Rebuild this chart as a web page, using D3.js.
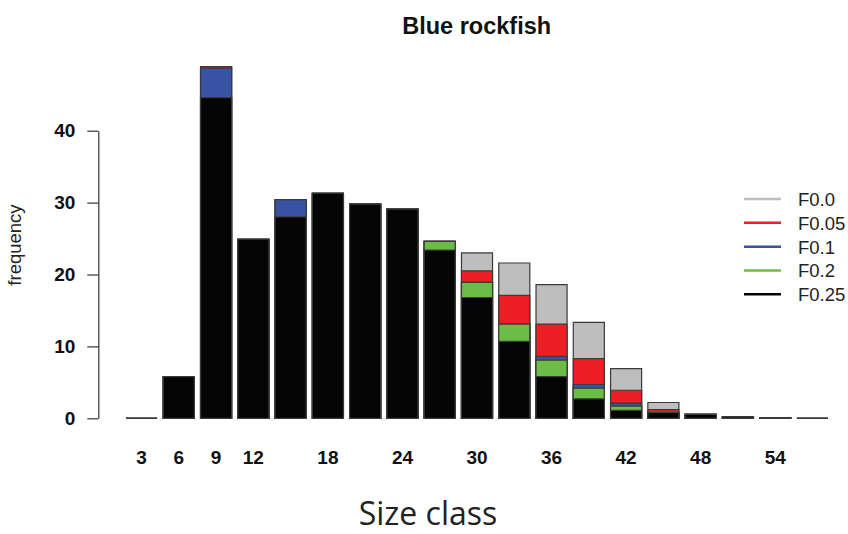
<!DOCTYPE html>
<html>
<head>
<meta charset="utf-8">
<script src="https://cdn.jsdelivr.net/npm/d3@7"></script>
<style>
  body { margin: 0; background: #fff; }
  svg { display: block; }
</style>
</head>
<body>
<svg id="chart" width="848" height="534"></svg>
<script>
// ---- data ----
const sizeClasses = [3, 6, 9, 12, 15, 18, 21, 24, 27, 30, 33, 36, 39, 42, 45, 48, 51, 54, 57];
const seriesNames = ["F0.0", "F0.05", "F0.1", "F0.2", "F0.25"];
const seriesColors = ["#bebebe", "#ed1f24", "#3953a4", "#6bbd45", "#050505"];
const F0_0  = [0, 5.8, 48.9, 24.9, 30.4, 31.3, 29.8, 29.1, 24.6, 23.0, 21.6, 18.6, 13.35, 6.9, 2.2, 0.55, 0.2, 0.05, 0];
const F0_05 = [0, 5.8, 48.9, 24.9, 30.4, 31.3, 29.8, 29.1, 24.6, 20.5, 17.1, 13.1, 8.3, 3.9, 1.2, 0.55, 0.2, 0.05, 0];
const F0_1  = [0, 5.8, 48.7, 24.9, 30.4, 31.3, 29.8, 29.1, 24.6, 18.9, 13.1, 8.6, 4.7, 2.1, 0.8, 0.55, 0.2, 0.05, 0];
const F0_2  = [0, 5.8, 44.6, 24.9, 28.0, 31.3, 29.8, 29.1, 24.6, 18.9, 13.1, 8.1, 4.2, 1.7, 0.8, 0.55, 0.2, 0.05, 0];
const F0_25 = [0, 5.8, 44.6, 24.9, 28.0, 31.3, 29.8, 29.1, 23.4, 16.8, 10.7, 5.8, 2.7, 1.1, 0.8, 0.55, 0.2, 0.05, 0];
const seriesValues = [F0_0, F0_05, F0_1, F0_2, F0_25];
const yTicks = [0, 10, 20, 30, 40];
const xTickLabels = [3, 6, 9, 12, 18, 24, 30, 36, 42, 48, 54];
const titleText = "Blue rockfish";
const yLabel = "frequency";
const xLabel = "Size class";

// ---- scales ----
const svg = d3.select("#chart");
const x = d3.scaleBand().domain(sizeClasses).range([126, 828]).paddingInner(0.167).paddingOuter(0);
const y = d3.scaleLinear().domain([0, 40]).range([418.3, 130.7]);

// ---- bars (overlaid, drawn in legend order) ----
seriesValues.forEach((vals, si) => {
  svg.append("g")
    .selectAll("path")
    .data(sizeClasses.map((s, i) => ({ s, v: vals[i] })))
    .join("path")
    .attr("d", d => {
      const x0 = x(d.s), w = x.bandwidth();
      const y0 = y(0), y1 = y(d.v);
      return `M${x0},${y0}V${y1}H${x0 + w}V${y0}Z`;
    })
    .attr("fill", seriesColors[si])
    .attr("stroke", "#3a3a3a")
    .attr("stroke-width", 1.2);
});

// ---- y axis ----
const yAxis = svg.append("g").attr("transform", "translate(98.3,0)")
  .call(d3.axisLeft(y).tickValues(yTicks).tickSize(11).tickPadding(12).tickSizeOuter(0));
yAxis.select(".domain").attr("stroke", "#333").attr("stroke-width", 1.2);
yAxis.selectAll(".tick line").attr("stroke", "#333").attr("stroke-width", 1.2);
yAxis.selectAll(".tick text")
  .attr("font-family", "Liberation Sans, Arial, sans-serif")
  .attr("font-weight", "bold")
  .attr("font-size", 19)
  .attr("fill", "#111");

// ---- x tick labels ----
svg.append("g").selectAll("text")
  .data(xTickLabels)
  .join("text")
  .attr("x", d => x(d) + x.bandwidth() / 2)
  .attr("y", 464)
  .attr("text-anchor", "middle")
  .attr("font-family", "Liberation Sans, Arial, sans-serif")
  .attr("font-weight", "bold")
  .attr("font-size", 19)
  .attr("fill", "#111")
  .text(d => d);

// ---- title ----
svg.append("text")
  .attr("x", 476.7).attr("y", 33.5)
  .attr("text-anchor", "middle")
  .attr("font-family", "Liberation Sans, Arial, sans-serif")
  .attr("font-weight", "bold")
  .attr("font-size", 23.5)
  .attr("fill", "#111")
  .text(titleText);

// ---- y label ----
svg.append("text")
  .attr("transform", "translate(21,245) rotate(-90)")
  .attr("text-anchor", "middle")
  .attr("font-family", "Liberation Sans, Arial, sans-serif")
  .attr("font-size", 18.5)
  .attr("fill", "#222")
  .text(yLabel);

// ---- x label ----
svg.append("text")
  .attr("x", 428).attr("y", 525)
  .attr("text-anchor", "middle")
  .attr("font-family", "Open Sans, sans-serif")
  .attr("font-size", 32)
  .attr("fill", "#222")
  .text(xLabel);

// ---- legend ----
const legend = svg.append("g");
const legendY = d3.scaleLinear().domain([0, 4]).range([199, 294.3]);
seriesNames.forEach((name, i) => {
  const ly = legendY(i);
  legend.append("line")
    .attr("x1", 744).attr("x2", 781)
    .attr("y1", ly).attr("y2", ly)
    .attr("stroke", seriesColors[i])
    .attr("stroke-width", 2.5);
  legend.append("text")
    .attr("x", 798).attr("y", ly + 7)
    .attr("font-family", "Liberation Sans, Arial, sans-serif")
    .attr("font-size", 18.5)
    .attr("fill", "#222")
    .text(name);
});
</script>
</body>
</html>
